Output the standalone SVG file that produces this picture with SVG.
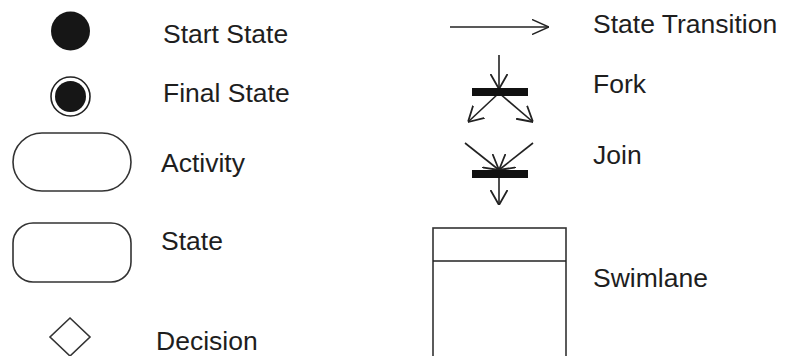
<svg xmlns="http://www.w3.org/2000/svg" width="792" height="356" viewBox="0 0 792 356">
<style>
  .lbl { font-family: "Liberation Sans", Arial, sans-serif; font-size: 26.5px; fill: #1e1e1e; }
  .shape { fill: #fff; stroke: #333; stroke-width: 1.6; }
  .line { fill: none; stroke: #222; stroke-width: 1.6; }
  .bar { fill: #111; }
</style>
<defs>
  <marker id="arrowBig" viewBox="0 0 17 16" refX="17" refY="8" markerWidth="17" markerHeight="16" markerUnits="userSpaceOnUse" orient="auto">
    <path d="M0,0.5 L17,8 L0,15.5" fill="none" stroke="#222" stroke-width="1.5"/>
  </marker>
  <marker id="arrowSmall" viewBox="0 0 15 18" refX="15" refY="9" markerWidth="15" markerHeight="18" markerUnits="userSpaceOnUse" orient="auto">
    <path d="M0,0.5 L15,9 L0,17.5" fill="none" stroke="#222" stroke-width="1.8"/>
  </marker>
</defs>
<rect width="792" height="356" fill="#fff"/>

<g id="start-state">
  <circle cx="70.5" cy="31" r="19.5" fill="#161616"/>
  <text class="lbl" x="163" y="43">Start State</text>
</g>

<g id="final-state">
  <circle cx="70.5" cy="96.5" r="19.5" fill="#fff" stroke="#222" stroke-width="1.6"/>
  <circle cx="70.5" cy="96.5" r="15.5" fill="#161616"/>
  <text class="lbl" x="163" y="102">Final State</text>
</g>

<g id="activity">
  <rect class="shape" x="13" y="133" width="118" height="58" rx="29" ry="29"/>
  <text class="lbl" x="161" y="172">Activity</text>
</g>

<g id="state">
  <rect class="shape" x="13" y="223" width="118" height="59" rx="20" ry="20"/>
  <text class="lbl" x="161" y="250">State</text>
</g>

<g id="decision">
  <polygon class="shape" points="70,318 90,337 70,356 50,337"/>
  <text class="lbl" x="156" y="350">Decision</text>
</g>

<g id="connectors">
  <g id="state-transition">
    <line class="line" x1="450" y1="27" x2="549" y2="27" marker-end="url(#arrowBig)"/>
  </g>
  <g id="fork-lines">
    <line class="line" x1="499" y1="55" x2="499" y2="89" stroke-width="2" marker-end="url(#arrowSmall)"/>
    <line class="line" x1="499" y1="93" x2="468" y2="122" stroke-width="2" marker-end="url(#arrowSmall)"/>
    <line class="line" x1="499" y1="93" x2="533" y2="122" stroke-width="2" marker-end="url(#arrowSmall)"/>
  </g>
  <g id="join-lines">
    <line class="line" x1="465" y1="143" x2="499" y2="170" stroke-width="2" marker-end="url(#arrowSmall)"/>
    <line class="line" x1="533" y1="143" x2="499" y2="170" stroke-width="2" marker-end="url(#arrowSmall)"/>
    <line class="line" x1="499" y1="176" x2="499" y2="205" stroke-width="2" marker-end="url(#arrowSmall)"/>
  </g>
</g>

<g id="state-transition-label">
  <text class="lbl" x="593" y="33">State Transition</text>
</g>

<g id="fork">
  <rect class="bar" x="472" y="88" width="56" height="8"/>
  <text class="lbl" x="593" y="93">Fork</text>
</g>

<g id="join">
  <rect class="bar" x="472" y="170" width="56" height="8"/>
  <text class="lbl" x="593" y="164">Join</text>
</g>

<g id="swimlane">
  <rect class="shape" x="433" y="228" width="133" height="140" fill="none"/>
  <line class="line" x1="433" y1="261" x2="566" y2="261" stroke="#444"/>
  <text class="lbl" x="593" y="287">Swimlane</text>
</g>
</svg>
